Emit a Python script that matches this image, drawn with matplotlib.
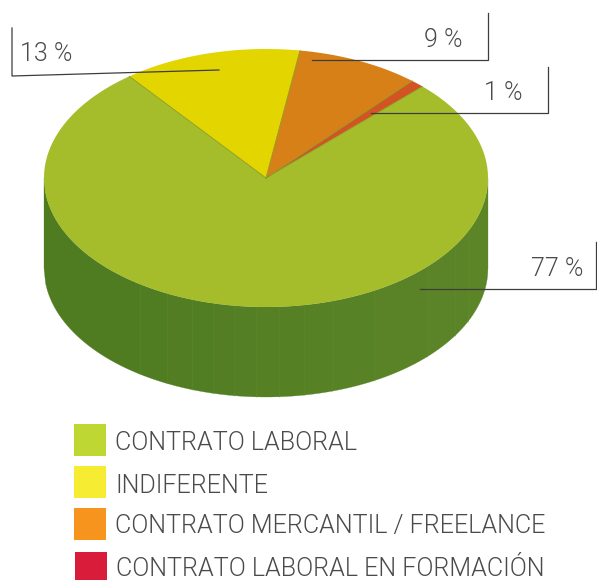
import numpy as np
import matplotlib
matplotlib.use("Agg")
import matplotlib.pyplot as plt
from matplotlib.patches import Polygon, Rectangle
from matplotlib.colors import to_rgb

labels = ["INDIFERENTE", "CONTRATO MERCANTIL / FREELANCE", "CONTRATO LABORAL EN FORMACIÓN", "CONTRATO LABORAL"]
values = [13, 9, 1, 77]
top_colors = ["#e3d500", "#d88018", "#d35323", "#a6bd2b"]

legend_labels = ["CONTRATO LABORAL", "INDIFERENTE", "CONTRATO MERCANTIL / FREELANCE", "CONTRATO LABORAL EN FORMACIÓN"]
legend_colors = ["#bfd732", "#f6ec32", "#f7941e", "#d91c3a"]

value_labels = ["13 %", "9 %", "1 %", "77 %"]

W, H = 597, 580
cx, cy, rx, ry = 266, 178, 222, 129
depth = 90
start = 128

# where the faint facet edges sit on the side wall
facet_x = [44, 140, 167, 192, 213, 234, 256, 279, 304, 332, 374, 427, 455, 468, 488]

fig = plt.figure(figsize=(W / 100, H / 100), dpi=100)
ax = fig.add_axes([0, 0, 1, 1])
ax.set_xlim(0, W)
ax.set_ylim(H, 0)
ax.axis("off")

font = dict(family="Roboto", weight=300, color="#4a4a4a")


def lerp(a, b, t):
    return tuple(np.array(to_rgb(a)) * (1 - t) + np.array(to_rgb(b)) * t)


# side wall, one polygon per facet
for i in range(len(facet_x) - 1):
    x = np.linspace(facet_x[i], facet_x[i + 1], 60)
    y = cy + ry * np.sqrt(np.clip(1 - ((x - cx) / rx) ** 2, 0, 1))
    pts = np.vstack([np.c_[x, y], np.c_[x[::-1], y[::-1] + depth]])
    col = lerp("#4d7a20", "#5c8528", (x.mean() - cx + rx) / (2 * rx))
    ax.add_patch(Polygon(pts, closed=True, fc=col, ec=col, lw=0.2, zorder=1))
    if i > 0:
        ax.plot([facet_x[i], facet_x[i]], [y[0], y[0] + depth], color="#6a9135", lw=0.5, alpha=0.35, zorder=1.5)

# top face
theta = start
for v, c in zip(values, top_colors):
    sweep = 360 * v / sum(values)
    t = np.radians(np.linspace(theta, theta - sweep, 200))
    pts = np.vstack([[cx, cy], np.c_[cx + rx * np.cos(t), cy - ry * np.sin(t)]])
    ax.add_patch(Polygon(pts, closed=True, fc=c, ec="none", zorder=2))
    ax.plot([cx, pts[1, 0]], [cy, pts[1, 1]], color="#8a9a22", lw=0.6, zorder=2.5)
    theta -= sweep

# leader lines
leaders = [
    ([12, 12, 219], [28, 76, 70]),
    ([488, 488, 312], [13, 60, 60]),
    ([548, 548, 371], [67, 113, 113]),
    ([596, 596, 420], [242, 289, 289]),
]
for xs, ys in leaders:
    ax.plot(xs, ys, color="#3d3d3d", lw=0.9, zorder=3, solid_joinstyle="miter")

label_pos = [(20, 61), (463, 47), (522, 100), (583, 276)]
label_ha = ["left", "right", "right", "right"]
for s, (x, y), ha in zip(value_labels, label_pos, label_ha):
    ax.text(x, y, s, ha=ha, va="baseline", fontsize=18, zorder=4, **font)

# legend
legend_box = [(74, 424, 32, 32), (74, 466, 32, 32), (74, 508, 32, 32), (75, 552, 32, 28)]
legend_text = [(115, 450), (115, 493), (115, 533), (116, 576)]
for s, c, (x, y, w, h), (tx, ty) in zip(legend_labels, legend_colors, legend_box, legend_text):
    ax.add_patch(Rectangle((x, y), w, h, fc=c, ec="none"))
    ax.text(tx, ty, s, ha="left", va="baseline", fontsize=18.1, **font)

fig.savefig("out.png", dpi=100)
